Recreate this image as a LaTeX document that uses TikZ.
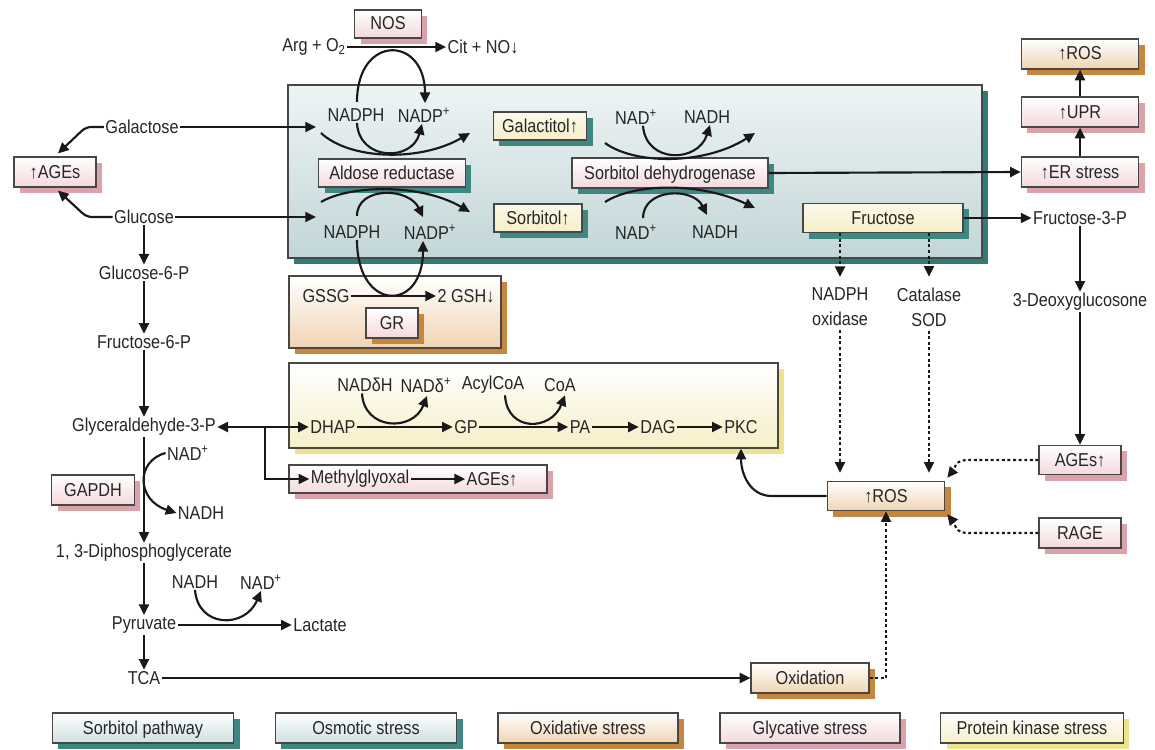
\documentclass[tikz,border=0pt]{standalone}
\usepackage{fontspec}
\setmainfont{Liberation Sans}[FakeStretch=0.87]
\usetikzlibrary{arrows.meta,shadows,calc}
\definecolor{pinkF}{HTML}{F3D9DC}
\definecolor{pinkS}{HTML}{DCA2A9}
\definecolor{orF}{HTML}{F0D4B2}
\definecolor{orS}{HTML}{C8853C}
\definecolor{tlF}{HTML}{CFE0E1}
\definecolor{tlS}{HTML}{3E8783}
\definecolor{ylF}{HTML}{F6EFC8}
\definecolor{ylS}{HTML}{EEE38C}
\definecolor{mainTop}{HTML}{EEF4F4}
\definecolor{mainBot}{HTML}{C2D6D8}
\definecolor{mainS}{HTML}{2F7B77}
\tikzset{
  txt/.style={font=\fontsize{14}{18.75}\selectfont, text=black!85, inner sep=1pt},
  bxx/.style={txt, draw=black!72, line width=0.9pt, inner sep=0pt, text height=10pt, text depth=1pt},
  shd/.style={drop shadow={shadow xshift=4.5pt, shadow yshift=-4.5pt, fill=#1, opacity=1}},
  pinkbox/.style={bxx, top color=white, bottom color=pinkF, shd=pinkS},
  orbox/.style={bxx, top color=white, bottom color=orF, shd=orS},
  tealbox/.style={bxx, top color=white, bottom color=tlF, shd=tlS},
  ylbox/.style={bxx, top color=white, bottom color=ylF, shd=ylS},
  pinktl/.style={bxx, top color=white, bottom color=pinkF, shd=tlS},
  yltl/.style={bxx, top color=ylF!40, bottom color=ylF, shd=tlS},
  pinkor/.style={bxx, top color=white, bottom color=pinkF, shd=orS},
  mainbx/.style={draw=black!72, line width=0.9pt, top color=mainTop, bottom color=mainBot, shd=mainS},
  wh/.style 2 args={minimum width=#1, minimum height=#2},
  ln/.style={line width=1.6pt, draw=black!90},
  arr/.style={ln, -{Triangle[length=8pt,width=7.5pt]}},
  dar/.style={arr, dash pattern=on 2.2pt off 2pt},
}
\begin{document}
\begin{tikzpicture}[x=0.75pt,y=-0.75pt]
\fill[white] (0,0) rectangle (1155,749);
\useasboundingbox (0,0) rectangle (1155,749);

% ---------- big boxes ----------
\node[mainbx, wh={520.5pt}{129.75pt}] (sorb) at (635,171.5) {};
\node[orbox, wh={159pt}{54pt}] (gsbox) at (395,312) {};
\node[ylbox, wh={366.75pt}{63.75pt}] (pkbox) at (533.5,405.5) {};
\node[pinkbox, wh={193.5pt}{21pt}] (mgbox) at (418,479) {};

% ---------- top ----------
\node[pinkbox, wh={50pt}{21pt}] (nos) at (388,24) {NOS};
\node[txt] (argo) at (314,47) {Arg + O\textsubscript{2}};
\node[txt] (cit) at (483,47) {Cit + NO↓};

% ---------- sorbitol pathway box content ----------
\node[txt] (nph1) at (356,115) {NADPH};
\node[txt] (np1) at (424,115) {NADP\textsuperscript{+}};
\node[pinktl, wh={110pt}{21pt}] (ar) at (392,173) {Aldose reductase};
\node[txt] (nph2) at (352,232) {NADPH};
\node[txt] (np2) at (430,232) {NADP\textsuperscript{+}};
\node[yltl, wh={70pt}{21pt}] (galt) at (540,126) {Galactitol↑};
\node[yltl, wh={66pt}{21pt}] (sorbt) at (538,218) {Sorbitol↑};
\node[txt] (nad1) at (636,117) {NAD\textsuperscript{+}};
\node[txt] (ndh1) at (707,117) {NADH};
\node[pinktl, wh={147pt}{22.5pt}] (sdh) at (670,173) {Sorbitol dehydrogenase};
\node[txt] (nad2) at (636,232) {NAD\textsuperscript{+}};
\node[txt] (ndh2) at (715,232) {NADH};
\node[yltl, wh={120pt}{22pt}] (fru) at (883,218) {Fructose};

% ---------- right column ----------
\node[orbox, wh={88pt}{22.5pt}] (ros1) at (1080,54) {↑ROS};
\node[pinkbox, wh={88pt}{22.5pt}] (upr) at (1080,112) {↑UPR};
\node[pinkbox, wh={88pt}{22.5pt}] (er) at (1080,172) {↑ER stress};
\node[txt] (f3p) at (1080,218) {Fructose-3-P};
\node[txt] (dxg) at (1080,302) {3-Deoxyglucosone};
\node[pinkbox, wh={61.5pt}{22pt}] (agr) at (1080,460) {AGEs↑};
\node[pinkbox, wh={61.5pt}{22.5pt}] (rage) at (1080,533) {RAGE};
\node[txt, align=center] (nox) at (840,307) {NADPH\\oxidase};
\node[txt, align=center] (cat) at (929,307) {Catalase\\SOD};
\node[orbox, wh={88pt}{22pt}] (ros2) at (886,496) {↑ROS};
\node[orbox, wh={88.5pt}{22.5pt}] (oxd) at (810,678) {Oxidation};

% ---------- left column ----------
\node[txt] (gal) at (142,127) {Galactose};
\node[pinkbox, wh={61.5pt}{22.5pt}] (agl) at (55,172) {↑AGEs};
\node[txt] (glu) at (144,217) {Glucose};
\node[txt] (g6p) at (144,273) {Glucose-6-P};
\node[txt] (f6p) at (144,342) {Fructose-6-P};
\node[txt] (gap) at (144,427) {Glyceraldehyde-3-P};
\node[pinkbox, wh={62pt}{22.5pt}] (gapdh) at (93,490) {GAPDH};
\node[txt] (nadg) at (188,453) {NAD\textsuperscript{+}};
\node[txt] (ndhg) at (201,513) {NADH};
\node[txt] (dpg) at (144,553) {1, 3-Diphosphoglycerate};
\node[txt] (ndhp) at (195,582) {NADH};
\node[txt] (nadp) at (261,582) {NAD\textsuperscript{+}};
\node[txt] (pyr) at (144,625) {Pyruvate};
\node[txt] (lac) at (320,625) {Lactate};
\node[txt] (tca) at (144,678) {TCA};

% ---------- GSSG box ----------
\node[txt] (gssg) at (326,296) {GSSG};
\node[txt] (gsh) at (466,296) {2 GSH↓};
\node[pinkor, wh={39pt}{22.5pt}] (gr) at (392,323) {GR};

% ---------- protein kinase box ----------
\node[txt] (ndd) at (365,385) {NADδH};
\node[txt] (nddp) at (426,385) {NADδ\textsuperscript{+}};
\node[txt] (acyl) at (493,385) {AcylCoA};
\node[txt] (coa) at (560,385) {CoA};
\node[txt] (dhap) at (333,427) {DHAP};
\node[txt] (gp) at (466,427) {GP};
\node[txt] (pa) at (580,427) {PA};
\node[txt] (dag) at (658,427) {DAG};
\node[txt] (pkc) at (741,427) {PKC};

% ---------- methylglyoxal ----------
\node[txt] (mgl) at (360,479) {Methylglyoxal};
\node[txt] (agm) at (492,479) {AGEs↑};

% ---------- legend ----------
\node[tealbox, wh={136pt}{22.5pt}] (lg1) at (143,728) {Sorbitol pathway};
\node[tealbox, wh={136pt}{22.5pt}] (lg2) at (366,728) {Osmotic stress};
\node[orbox, wh={135pt}{22.5pt}] (lg3) at (588,728) {Oxidative stress};
\node[pinkbox, wh={135pt}{22.5pt}] (lg4) at (810,728) {Glycative stress};
\node[ylbox, wh={137pt}{22.5pt}] (lg5) at (1032,728) {Protein kinase stress};

% free ends
\coordinate (galIn) at (316,127);
\coordinate (gluIn) at (316,217);
\coordinate (aw1) at (321,133);
\coordinate (aw2) at (470,133);
\coordinate (aw3) at (321,202);
\coordinate (aw4) at (470,212);
\coordinate (sw1) at (605,143);
\coordinate (sw2) at (755,133);
\coordinate (sw3) at (605,202);
\coordinate (sw4) at (755,208);

% ---------- connectors ----------
\draw[arr] (argo) -- (cit);
\draw[arr] ($(nph1.north)+(1,-5)$) .. controls +(0,-68) and +(0,-68) .. ($(np1.north)+(1,-3)$);
\draw[arr] (gal.east) -- (galIn);
\draw[arr] (glu.east) -- (gluIn);
\draw[arr, rounded corners=4pt] (gal.west) -- ($(gal.west)+(-18,0)$) -- ($(agl.north)+(3,-3)$);
\draw[arr, rounded corners=4pt] (glu.west) -- ($(glu.west)+(-26,0)$) -- ($(agl.south)+(3,3)$);

% aldose reductase
\draw[arr] (aw1) .. controls (350,160) and (420,162) .. (aw2);
\draw[arr] ($(nph1.south)+(1,0)$) .. controls +(2,38) and +(-10,38) .. ($(np1.south)+(-2,0)$);
\draw[arr] (aw3) .. controls (350,185) and (420,183) .. (aw4);
\draw[arr] ($(nph2.north)+(5,-8)$) .. controls +(0,-30) and +(-14,-30) .. ($(np2.north)+(-7,-6)$);
\draw[arr] ($(nph2.south)+(5,0)$) .. controls +(0,72) and +(0,72) .. ($(np2.south)+(-7,0)$);

% sorbitol dehydrogenase
\draw[arr] (sw1) .. controls (635,165) and (705,165) .. (sw2);
\draw[arr] ($(nad1.south)+(7,0)$) .. controls +(3,38) and +(-12,38) .. ($(ndh1.south)+(3,0)$);
\draw[arr] (sw3) .. controls (635,183) and (700,182) .. (sw4);
\draw[arr] ($(nad2.north)+(7,-5)$) .. controls +(0,-30) and +(-14,-28) .. ($(ndh2.north)+(-8,-9)$);

\draw[arr] (sdh.east) -- (er.west);
\draw[arr] (er.north) -- (upr.south);
\draw[arr] (upr.north) -- (ros1.south);
\draw[arr] (fru.east) -- (f3p.west);
\draw[arr] (f3p.south) -- (dxg.north);
\draw[arr] (dxg.south) -- (agr.north);

\draw[dar, shorten >=7pt] (nox.north |- fru.south) -- (nox.north);
\draw[dar, shorten >=7pt] (cat.north |- fru.south) -- (cat.north);
\draw[dar, shorten <=2pt, shorten >=6pt] (nox.south) -- (nox.south |- ros2.north);
\draw[dar, shorten <=2pt, shorten >=6pt] (cat.south) -- (cat.south |- ros2.north);
\draw[dar] (agr.west) -- ($(agr.west)+(-70,0)$) .. controls +(-14,0) and +(8,-10) .. ($(ros2.north east)+(2,-3)$);
\draw[dar] (rage.west) -- ($(rage.west)+(-70,0)$) .. controls +(-14,0) and +(8,10) .. ($(ros2.south east)+(2,3)$);
\draw[dar] (oxd.east) -| (ros2.south);
\draw[arr] (ros2.west) -- ($(ros2.west)+(-55,0)$) .. controls +(-22,0) and +(0,25) .. (pkc |- pkbox.south);

% GSSG
\draw[arr] (gssg) -- (gsh);

% glycolysis
\draw[arr] (glu) -- (g6p);
\draw[arr] (g6p) -- (f6p);
\draw[arr] (f6p) -- (gap);
\draw[arr] (gap) -- (dpg);
\draw[arr] (nadg.west) .. controls +(-30,8) and +(-40,-13) .. (ndhg.west);
\draw[arr] (dpg) -- (pyr);
\draw[arr] (pyr) -- (tca);
\draw[arr] (pyr) -- (lac);
\draw[arr] (ndhp.south) .. controls +(3,38) and +(-16,38) .. (nadp.south);
\draw[arr] (tca) -- (oxd);

% triose / PKC
\draw[ln, {Triangle[length=8pt,width=7.5pt]}-{Triangle[length=8pt,width=7.5pt]}] (gap.east) -- (dhap.west);
\draw[arr] ($(gap.east)!0.52!(dhap.west)$) |- (mgl.west);
\draw[arr] (dhap) -- (gp);
\draw[arr] (gp) -- (pa);
\draw[arr] (pa) -- (dag);
\draw[arr] (dag) -- (pkc);
\draw[arr] ($(ndd.south)+(-3,0)$) .. controls +(2,37) and +(-14,36) .. ($(nddp.south)+(1,2)$);
\draw[arr] ($(acyl.south)+(12,0)$) .. controls +(2,37) and +(-14,36) .. ($(coa.south)+(5,2)$);
\draw[arr] (mgl) -- (agm);
\end{tikzpicture}
\end{document}
